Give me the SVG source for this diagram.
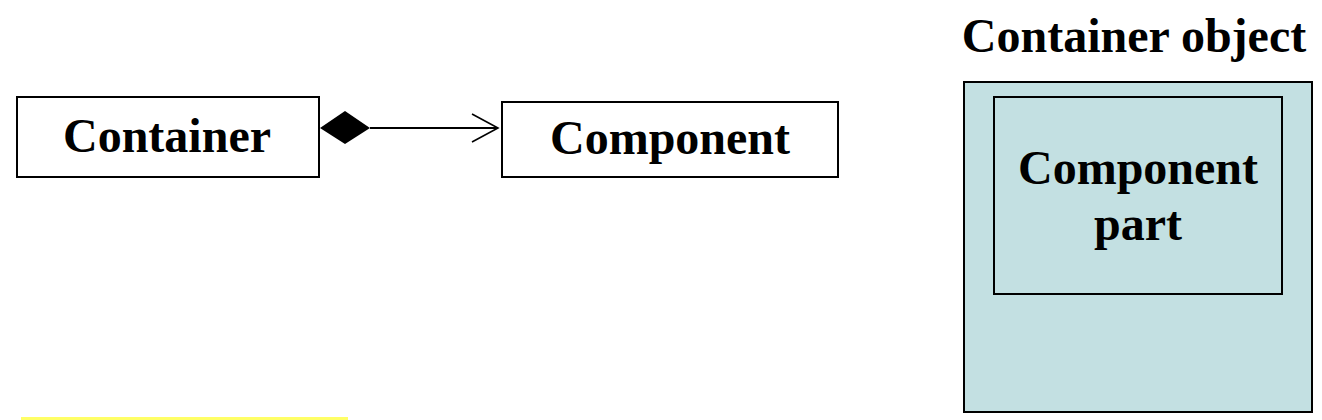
<svg xmlns="http://www.w3.org/2000/svg" width="1322" height="420" viewBox="0 0 1322 420">
<style>
.box{fill:#fff;stroke:#000;stroke-width:2}
.cbox{fill:#c3e0e2;stroke:#000;stroke-width:2}
.t{font-family:"Liberation Serif","Times New Roman",serif;font-weight:bold;font-size:48px;fill:#000;text-anchor:middle}
.conn{stroke:#000;stroke-width:2;fill:none}
</style>
<defs>
<marker id="open" markerWidth="30" markerHeight="32" refX="27" refY="15" orient="auto" markerUnits="userSpaceOnUse">
<path d="M1,1 L27,15 L1,29" fill="none" stroke="#000" stroke-width="1.6"/>
</marker>
</defs>
<rect width="1322" height="420" fill="#fff"/>
<g id="container">
<rect class="box" x="17" y="97" width="302" height="80"/>
<text class="t" x="167" y="152">Container</text>
</g>
<g id="component">
<rect class="box" x="502" y="102" width="336" height="75"/>
<text class="t" x="670" y="154">Component</text>
</g>
<g id="connectors">
<path class="conn" d="M370,128 L498,128" marker-end="url(#open)"/>
<polygon points="320,128 345,111 370,128 345,144" fill="#000"/>
</g>
<g id="container-object">
<text class="t" x="1134" y="52">Container object</text>
<rect class="cbox" x="964" y="82" width="348" height="330"/>
</g>
<g id="component-part">
<rect class="cbox" x="994" y="97" width="288" height="197"/>
<text class="t" x="1138" y="184">Component</text>
<text class="t" x="1138" y="240">part</text>
</g>
<rect x="21" y="417" width="327" height="3" fill="#ffff66"/>
</svg>
